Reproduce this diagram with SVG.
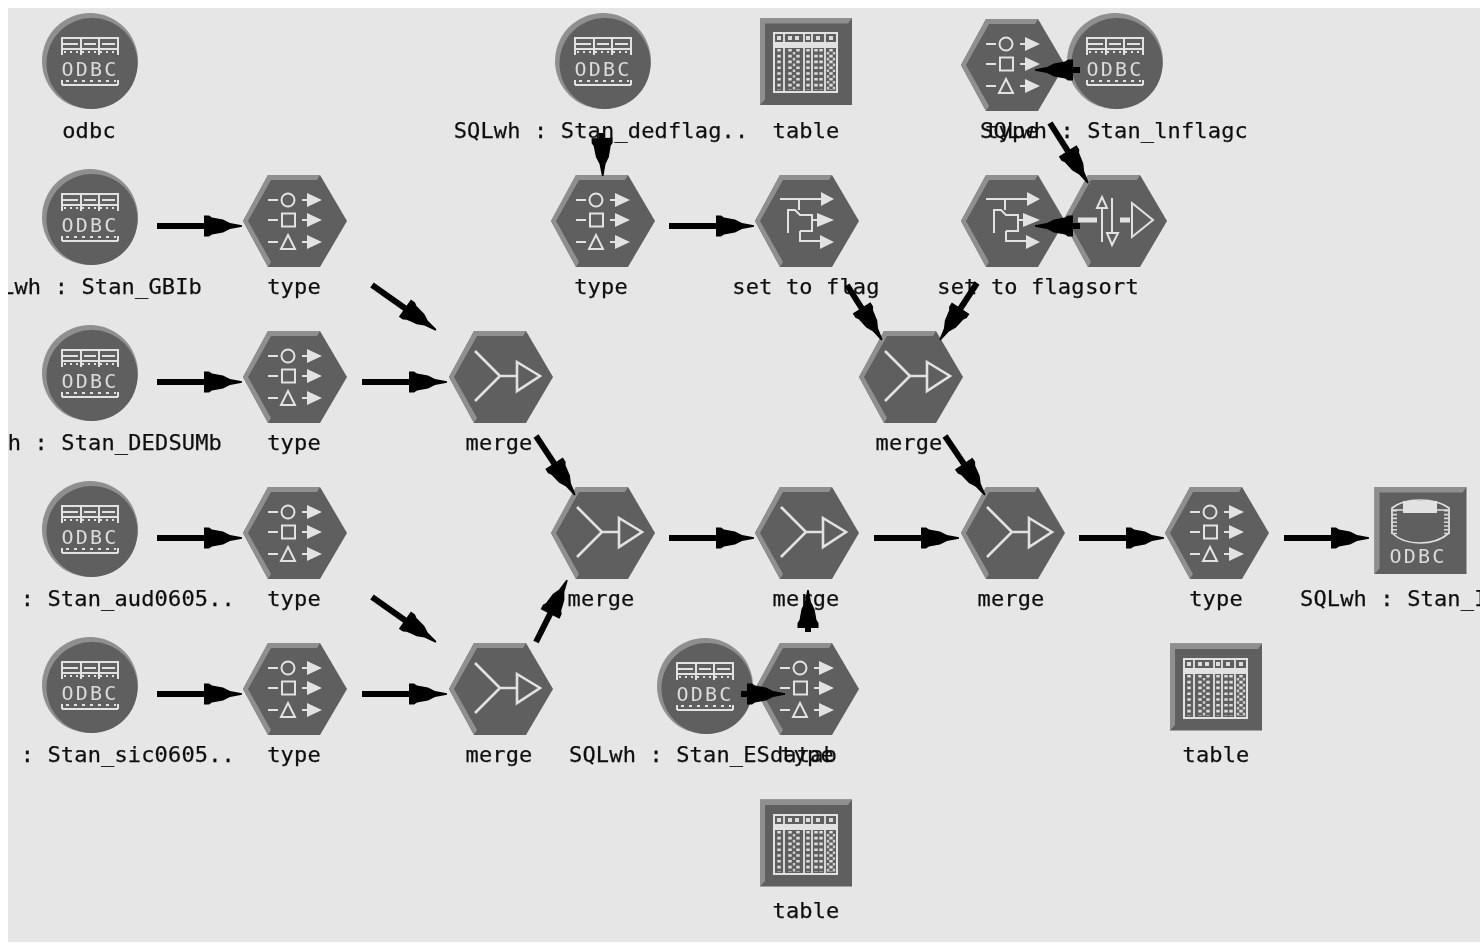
<svg xmlns="http://www.w3.org/2000/svg" xmlns:xlink="http://www.w3.org/1999/xlink" width="1480" height="943" viewBox="0 0 1480 943">
<style>
.lbl{font-family:"DejaVu Sans Mono","Liberation Mono",monospace;font-size:22px;letter-spacing:.15px;fill:#111;stroke:#111;stroke-width:.25;text-anchor:middle}
.end{text-anchor:end}
.start{text-anchor:start}
.odbc{font-family:"DejaVu Sans Mono","Liberation Mono",monospace;font-size:20px;letter-spacing:2.2px;fill:#dcdcdc;text-anchor:middle}
.ic{fill:none;stroke:#e2e2e2;stroke-width:2}
.if{fill:#e2e2e2;stroke:none}
.cn{stroke:#000;stroke-width:6;fill:none;marker-end:url(#head)}
</style>
<defs>
<clipPath id="frame"><rect x="8" y="8" width="1472" height="934"/></clipPath>
<filter id="soft" x="0" y="0" width="100%" height="100%"><feGaussianBlur stdDeviation="0.55"/></filter>
<marker id="head" markerUnits="userSpaceOnUse" markerWidth="40" markerHeight="24" refX="0" refY="0" viewBox="0 -12 40 24" orient="auto" overflow="visible">
<path d="M-1,-10.5H4L7,-8.5 18,-6.5 25,-3 37,-.8V.8L25,3 18,6.5 7,8.5 4,10.5H-1Z" fill="#000"/>
</marker>
<g id="hex">
<polygon points="-52,0 -27,-46 25,-46 52,0 25,46 -27,46" fill="#5e5e5e"/>
<polygon points="-52,0 -27,-46 25,-46 22,-41 -24,-41 -47,0 -24,41 -27,46" fill="#8f8f8f"/>
</g>
<g id="disc">
<circle cy="1" r="48" fill="#8f8f8f"/>
<circle cx="2" cy="3.5" r="45.5" fill="#5e5e5e"/>
<path class="ic" d="M-28,-22H28V-11H-28ZM-28,-11V-5M-9,-22V-5M9,-22V-5M28,-11V-5M-28,-16H-12M-6,-16H6M12,-16H25"/>
<path class="ic" stroke-dasharray="2 4" d="M-26,-8H26"/>
<path class="ic" d="M-28,25H28M-28,20V25M28,20V25"/>
<path class="ic" stroke-dasharray="3 5" d="M-24,21H26"/>
</g>
<g id="typeIcon">
<path class="ic" d="M-27,-21H-17M-27,-1H-17M-27,21H-17M7,-21H13M7,-1H13M7,21H13"/>
<circle class="ic" cx="-7" cy="-21" r="6.5"/>
<rect class="ic" x="-13" y="-7.5" width="13" height="13"/>
<path class="ic" d="M-7,14 L0,28H-14Z"/>
<path class="if" d="M12,-28L27,-21 12,-14ZM12,-8L27,-1 12,6ZM12,14L27,21 12,28Z"/>
</g>
<g id="mergeIcon">
<path class="ic" style="stroke-width:2.6" d="M-26,-26L-1,-1 -26,24M-1,-1H16M16,-15L39,-1 16,14Z"/>
</g>
<g id="setIcon">
<path class="ic" d="M-27,-22H15M-8,-22V-11M-19,12V-11H-12L-7,-6H5V10H-7M-7,10V20H13M5,-1H10"/>
<path class="if" d="M14,-29L27,-22 14,-15ZM10,-8L27,-1 10,6ZM13,14L27,21 13,28Z"/>
</g>
<g id="sortIcon">
<path d="M-37,-1H-18M5,-1H15" stroke="#e2e2e2" stroke-width="5" fill="none"/>
<path class="ic" d="M-13,-13V21M-18,-13L-13,-24 -8,-13ZM-3,-23V12M-8,12H3L-3,24ZM17,-18L38,-1 17,16Z"/>
</g>
<g id="box">
<rect x="-46" y="-43.5" width="92" height="87" fill="#5e5e5e"/>
<path d="M-46,-43.5H46L42,-38H-41V38L-46,43.5Z" fill="#8f8f8f"/>
</g>
<g id="tableIcon">
<rect class="if" x="-33" y="-29" width="65" height="61"/>
<rect x="-31" y="-27" width="61" height="8" fill="#5e5e5e"/>
<rect x="-31" y="-13" width="61" height="43" fill="#5e5e5e"/>
<path d="M-22,-29V32M-2,-29V32M6,-29V32M19,-29V32" stroke="#e2e2e2" stroke-width="1.8"/>
<path d="M-27,-25V-21M-16,-25V-21M-9,-25V-21M2,-25V-21M12,-25V-21M25,-25V-21" stroke="#dcdcdc" stroke-width="4"/>
<path d="M-27,-12V29M-16,-12V29M-8,-12V29M2,-12V29M10,-12V29M15,-12V29M25,-12V29" stroke="#dedede" stroke-width="3.4" stroke-dasharray="2.6 3.2" fill="none"/>
<path d="M-12,-9V29M22,-9V29M28,-9V29" stroke="#cfcfcf" stroke-width="2.4" stroke-dasharray="2.6 3.2" fill="none"/>
</g>
</defs>
<rect width="1480" height="943" fill="#fff"/>
<rect x="8" y="8" width="1472" height="934" fill="#e6e6e6"/>
<g clip-path="url(#frame)">
<g filter="url(#soft)">
<g id="n-odbc"><use href="#disc" x="90" y="60"/><text class="odbc" x="90" y="76">ODBC</text><text class="lbl" x="89" y="138">odbc</text></g>
<g id="n-gbib"><use href="#disc" x="90" y="216"/><text class="odbc" x="90" y="232">ODBC</text><text class="lbl end" x="202" y="294">Lwh : Stan_GBIb</text></g>
<g id="n-dedsumb"><use href="#disc" x="90" y="372"/><text class="odbc" x="90" y="388">ODBC</text><text class="lbl end" x="222" y="450">h : Stan_DEDSUMb</text></g>
<g id="n-aud"><use href="#disc" x="90" y="528"/><text class="odbc" x="90" y="544">ODBC</text><text class="lbl end" x="235" y="606">: Stan_aud0605..</text></g>
<g id="n-sic"><use href="#disc" x="90" y="684"/><text class="odbc" x="90" y="700">ODBC</text><text class="lbl end" x="235" y="762">: Stan_sic0605..</text></g>
<g id="n-type1"><use href="#hex" x="295" y="221"/><use href="#typeIcon" x="295" y="221"/><text class="lbl" x="294" y="294">type</text></g>
<g id="n-type2"><use href="#hex" x="295" y="377"/><use href="#typeIcon" x="295" y="377"/><text class="lbl" x="294" y="450">type</text></g>
<g id="n-type3"><use href="#hex" x="295" y="533"/><use href="#typeIcon" x="295" y="533"/><text class="lbl" x="294" y="606">type</text></g>
<g id="n-type4"><use href="#hex" x="295" y="689"/><use href="#typeIcon" x="295" y="689"/><text class="lbl" x="294" y="762">type</text></g>
<g id="n-merge1"><use href="#hex" x="501" y="377"/><use href="#mergeIcon" x="501" y="377"/><text class="lbl" x="499" y="450">merge</text></g>
<g id="n-merge2"><use href="#hex" x="501" y="689"/><use href="#mergeIcon" x="501" y="689"/><text class="lbl" x="499" y="762">merge</text></g>
<g id="n-merge3"><use href="#hex" x="603" y="533"/><use href="#mergeIcon" x="603" y="533"/><text class="lbl" x="601" y="606">merge</text></g>
<g id="n-merge4"><use href="#hex" x="807" y="533"/><use href="#mergeIcon" x="807" y="533"/><text class="lbl" x="806" y="606">merge</text></g>
<g id="n-merge5"><use href="#hex" x="1013" y="533"/><use href="#mergeIcon" x="1013" y="533"/><text class="lbl" x="1011" y="606">merge</text></g>
<g id="n-merge6"><use href="#hex" x="911" y="377"/><use href="#mergeIcon" x="911" y="377"/><text class="lbl" x="909" y="450">merge</text></g>
<g id="n-dedflag"><use href="#disc" x="603" y="60"/><text class="odbc" x="603" y="76">ODBC</text><text class="lbl" x="601" y="138">SQLwh : Stan_dedflag..</text></g>
<g id="n-table1"><use href="#box" x="806" y="61.5"/><use href="#tableIcon" x="806" y="61"/><text class="lbl" x="806" y="138">table</text></g>
<g id="n-type5"><use href="#hex" x="1013" y="65"/><use href="#typeIcon" x="1013" y="65"/><text class="lbl" x="1012" y="138">type</text></g>
<g id="n-lnflagc"><use href="#disc" x="1115" y="60"/><text class="odbc" x="1115" y="76">ODBC</text><text class="lbl" x="1114" y="138">SQLwh : Stan_lnflagc</text></g>
<g id="n-type6"><use href="#hex" x="603" y="221"/><use href="#typeIcon" x="603" y="221"/><text class="lbl" x="601" y="294">type</text></g>
<g id="n-set1"><use href="#hex" x="807" y="221"/><use href="#setIcon" x="807" y="221"/><text class="lbl" x="806" y="294">set to flag</text></g>
<g id="n-set2"><use href="#hex" x="1013" y="221"/><use href="#setIcon" x="1013" y="221"/><text class="lbl" x="1011" y="294">set to flag</text></g>
<g id="n-sort"><use href="#hex" x="1115" y="221"/><use href="#sortIcon" x="1115" y="221"/><text class="lbl" x="1112" y="294">sort</text></g>
<g id="n-type7"><use href="#hex" x="1217" y="533"/><use href="#typeIcon" x="1217" y="533"/><text class="lbl" x="1216" y="606">type</text></g>
<g id="n-out"><use href="#box" x="1420.5" y="530.5"/>
<path d="M1392,508Q1402,500 1420,500T1449,508V533Q1438,543 1420,543T1392,533Z" fill="none" stroke="#e2e2e2" stroke-width="1.7"/>
<path d="M1403,501H1437V513H1403Z" fill="#e2e2e2"/>
<path d="M1392,510H1449" stroke="#e2e2e2" stroke-width="1.7"/>
<path d="M1394,510V534M1447,510V534" stroke="#d8d8d8" stroke-width="6" stroke-dasharray="1.6 2.2" fill="none"/>
<text class="odbc" x="1418" y="563">ODBC</text><text class="lbl start" x="1300" y="606">SQLwh : Stan_I</text></g>
<g id="n-table2"><use href="#box" x="1216" y="687"/><use href="#tableIcon" x="1216" y="687"/><text class="lbl" x="1216" y="762">table</text></g>
<g id="n-esdatab"><use href="#disc" x="705" y="685"/><text class="odbc" x="705" y="701">ODBC</text><text class="lbl" x="703" y="762">SQLwh : Stan_ESdatab</text></g>
<g id="n-type8"><use href="#hex" x="807" y="689"/><use href="#typeIcon" x="807" y="689"/><text class="lbl" x="807" y="762">type</text></g>
<g id="n-table3"><use href="#box" x="806" y="843"/><use href="#tableIcon" x="806" y="843"/><text class="lbl" x="806" y="918">table</text></g>
<g id="connectors">
<path class="cn" d="M157,226H205"/>
<path class="cn" d="M157,382H205"/>
<path class="cn" d="M157,538H205"/>
<path class="cn" d="M157,694H205"/>
<path class="cn" d="M362,382H410"/>
<path class="cn" d="M362,694H410"/>
<path class="cn" d="M372,285L405.7,308.7"/>
<path class="cn" d="M372,597L405.7,620.7"/>
<path class="cn" d="M536,436L554.6,464.1"/>
<path class="cn" d="M536,642L550.5,613.1"/>
<path class="cn" d="M669,538H717"/>
<path class="cn" d="M874,538H922"/>
<path class="cn" d="M1079,538H1127"/>
<path class="cn" d="M1284,538H1332"/>
<path class="cn" d="M669,226H717"/>
<path class="cn" d="M602,133L602.1,139"/>
<path class="cn" d="M1080,70H1072"/>
<path class="cn" d="M1080,226H1072"/>
<path class="cn" d="M1050,123L1068.2,151.7"/>
<path class="cn" d="M847,285L862.1,308.8"/>
<path class="cn" d="M977,283L960.1,309"/>
<path class="cn" d="M945,436L964.2,464.4"/>
<path class="cn" d="M741,694H748"/>
<path class="cn" d="M808,632V627"/>
</g>
</g>
</g>
</svg>
